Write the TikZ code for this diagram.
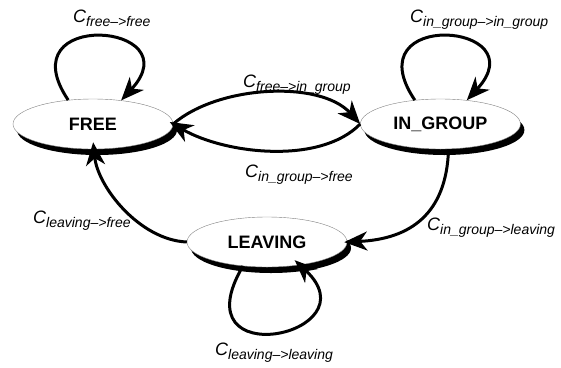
\documentclass[tikz,border=0pt]{standalone}
\usepackage{fontspec}
\setmainfont{Liberation Sans}
\usepackage{tikz}
\usetikzlibrary{arrows.meta,positioning,shapes.geometric,shadows}
\tikzset{
  state/.style={ellipse,draw=gray,thin,fill=white,minimum width=160pt,%
    minimum height=50pt,inner sep=0pt,font=\fontsize{18}{18}\selectfont\bfseries,%
    drop shadow={shadow xshift=4pt,shadow yshift=-6pt,fill=black,opacity=1}},
  trans/.style={-{Stealth[length=23pt,width=19pt,inset=7pt]},line width=3pt},
  cost/.style={anchor=base west,inner sep=0pt,font=\itshape},
}
\newcommand{\trcost}[2]{{\fontsize{18}{18}\selectfont C}%
  \raisebox{-4pt}{\fontsize{14}{14}\selectfont #1-->#2}}

\begin{document}
\begin{tikzpicture}[x=1pt,y=-1pt]
\useasboundingbox (0,0) rectangle (561,367);
\node[state] (free) at (93,124) {FREE};
\node[state,right=187pt of free] (ingroup) {IN\_GROUP};
\node[state] (leaving) at (267,242) {LEAVING};
% self loops
\draw[trans] (free.136) .. controls +(-62,-92) and +(72,-78) .. (free.40);
\draw[trans] (ingroup.137) .. controls +(-62,-92) and +(72,-78) .. (ingroup.42);
\draw[trans,shorten >=-7pt] (leaving.-135) .. controls +(-65,110) and +(75,70) .. (leaving.-35);
% between states
\draw[trans] (free.east) .. controls +(45,-39) and +(-40,-44) .. (ingroup.west);
\draw[trans,shorten >=-4pt] (ingroup.west) .. controls +(-40,41) and +(52,30) .. (free.east);
\draw[trans,shorten >=-3pt] (ingroup.-72) .. controls +(-2,65) and +(63,-3) .. (leaving.east);
\draw[trans,shorten >=-7pt] (leaving.west) .. controls +(-47,-2) and +(4,38) .. (free.-88);
% labels
\node[cost] (cff) at (73,22) {\trcost{free}{free}};
\node[cost] (cfi) at (243,87) {\trcost{free}{in\_group}};
\node[cost] (cif) at (245,177) {\trcost{in\_group}{free}};
\node[cost] (cii) at (410,22) {\trcost{in\_group}{in\_group}};
\node[cost] (clf) at (33,223) {\trcost{leaving}{free}};
\node[cost] (cil) at (427,230) {\trcost{in\_group}{leaving}};
\node[cost] (cll) at (215,355) {\trcost{leaving}{leaving}};
\end{tikzpicture}
\end{document}
